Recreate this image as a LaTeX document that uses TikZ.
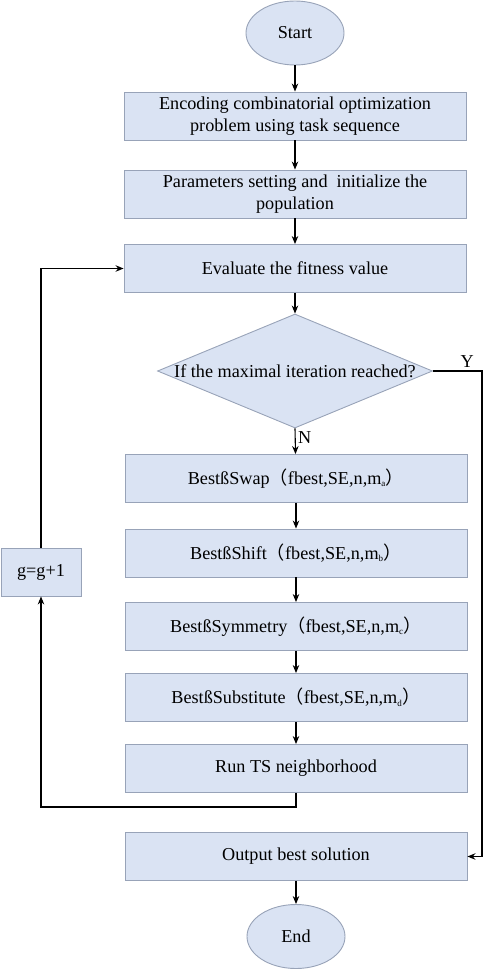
\documentclass[tikz,border=0pt]{standalone}
\usepackage{fontspec}
\setmainfont{Liberation Serif}
\newfontfamily\cjk{Noto Sans CJK SC}
\usepackage{xcolor}
\usetikzlibrary{positioning,arrows.meta,shapes.geometric}

\definecolor{boxfill}{RGB}{218,227,243}
\definecolor{boxline}{RGB}{152,163,184}

\newcommand{\lp}{{\cjk （}}
\newcommand{\rp}{{\cjk ）}}
\newcommand{\sub}[1]{\textsubscript{\fontsize{9}{9}\selectfont #1}}

\begin{document}
\begin{tikzpicture}[
    x=1pt,
    y=-1pt,
    ->,
    >={Stealth[length=8pt,width=6.5pt]},
    line width=1.1pt,
    font=\fontsize{18.2}{22.5}\selectfont
]

\tikzstyle{proc}=[
    rectangle,
    draw=boxline,
    fill=boxfill,
    line width=0.9pt,
    minimum width=342pt,
    minimum height=48pt,
    inner sep=2pt,
    align=center
]
\tikzstyle{term}=[
    ellipse,
    draw=boxline,
    fill=boxfill,
    line width=0.9pt,
    minimum width=98pt,
    minimum height=64pt,
    inner sep=0pt
]
\tikzstyle{decision}=[
    diamond,
    draw=boxline,
    fill=boxfill,
    line width=0.9pt,
    minimum width=275pt,
    minimum height=114pt,
    inner sep=0pt
]

\useasboundingbox (0,0) rectangle (484,971);

\node[term] (start) at (295,33) {Start};
\node[proc] (enc) at (295,116) {Encoding combinatorial optimization\\problem using task sequence};
\node[proc] (par) at (295,194) {Parameters setting and\ \ initialize the\\population};
\node[proc] (eval) at (295,268.5) {Evaluate the fitness value};
\node[decision] (dec) at (295,371) {};
\node (dectext) at (dec.center) {If the maximal iteration reached?};

\node[proc] (swap) at (296,478.5) {BestßSwap\lp fbest,SE,n,m\sub{a}\rp};
\node[proc] (shift) at (296,553) {BestßShift\lp fbest,SE,n,m\sub{b}\rp};
\node[proc] (sym) at (296,626.5) {BestßSymmetry\lp fbest,SE,n,m\sub{c}\rp};
\node[proc] (subst) at (296,697.5) {BestßSubstitute\lp fbest,SE,n,m\sub{d}\rp};
\node[proc] (run) at (296,768.5) {Run TS neighborhood};
\node[proc] (out) at (296,856.5) {Output best solution};
\node[term] (end) at (296,936.5) {End};

\node[proc, minimum width=80pt] (inc) at (41,572) {g=g+1};

\coordinate (loopcorner) at (296,807);
\coordinate (ycorner) at (482,371);

\draw (start) -- (enc);
\draw (enc) -- (par);
\draw (par) -- (eval);
\draw (eval) -- (dec);
\draw (dec.south) -- node[right=-1pt, pos=0.35] {N} (swap);
\draw (swap) -- (shift);
\draw (shift) -- (sym);
\draw (sym) -- (subst);
\draw (subst) -- (run);
\draw (out) -- (end);

% loop back
\draw (run.south) -- (loopcorner) -| (inc.south);
\draw (inc.north) |- (eval.west);

% exit
\draw (dec.east) -- node[above, pos=0.7] {Y} (ycorner) |- (out.east);

\end{tikzpicture}
\end{document}
